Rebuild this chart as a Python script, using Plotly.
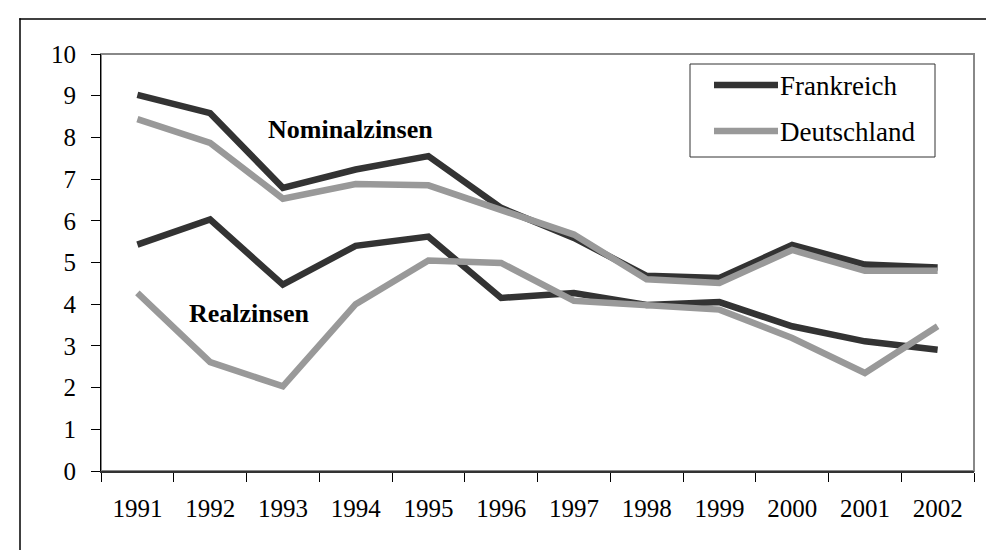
import plotly.graph_objects as go

years = ["1991", "1992", "1993", "1994", "1995", "1996", "1997", "1998", "1999", "2000", "2001", "2002"]
series_names = ["Frankreich", "Deutschland"]
fr_nominal = [9.02, 8.58, 6.79, 7.23, 7.55, 6.31, 5.59, 4.68, 4.63, 5.42, 4.95, 4.88]
de_nominal = [8.44, 7.87, 6.53, 6.88, 6.85, 6.28, 5.67, 4.60, 4.51, 5.30, 4.80, 4.80]
fr_real = [5.43, 6.03, 4.47, 5.40, 5.62, 4.15, 4.27, 3.98, 4.05, 3.47, 3.11, 2.91]
de_real = [4.27, 2.61, 2.03, 4.00, 5.05, 4.99, 4.08, 3.98, 3.87, 3.19, 2.35, 3.47]
labels = ["Nominalzinsen", "Realzinsen"]

W, H = 994, 550
L, R, T, B = 93, 966, 46, 463
FONT = "Liberation Serif"
C_FR = "#333333"
C_DE = "#999999"
LW = 6.5


def px(x):
    return (x - L) / (R - L)


def py(y):
    return (B - y) / (B - T)


fig = go.Figure()
for vals, col, name in [(fr_nominal, C_FR, series_names[0]), (fr_real, C_FR, series_names[0]),
                        (de_nominal, C_DE, series_names[1]), (de_real, C_DE, series_names[1])]:
    fig.add_trace(go.Scatter(x=years, y=vals, mode="lines", name=name,
                             line=dict(color=col, width=LW), showlegend=False,
                             hoverinfo="skip"))

shapes = []
# outer frame: only top and left edges are visible in the picture
shapes.append(dict(type="line", xref="paper", yref="paper",
                   x0=px(11.3), x1=px(994), y0=py(11), y1=py(11),
                   line=dict(color="black", width=1.5), layer="below"))
shapes.append(dict(type="line", xref="paper", yref="paper",
                   x0=px(12), x1=px(12), y0=py(10.3), y1=py(550),
                   line=dict(color="black", width=1.5), layer="below"))
# plot area border (top/right gray)
shapes.append(dict(type="rect", xref="paper", yref="paper",
                   x0=0, x1=1, y0=0, y1=1,
                   line=dict(color="#888888", width=2), layer="below"))
# legend box
shapes.append(dict(type="rect", xref="paper", yref="paper",
                   x0=px(682), x1=px(927), y0=py(149), y1=py(56),
                   line=dict(color="#333333", width=1), fillcolor="white", layer="above"))
annotations = []
for i, (name, col, yy) in enumerate([(series_names[0], C_FR, 77), (series_names[1], C_DE, 123)]):
    shapes.append(dict(type="line", xref="paper", yref="paper",
                       x0=px(706), x1=px(770), y0=py(yy), y1=py(yy),
                       line=dict(color=col, width=LW), layer="above"))
    annotations.append(dict(text=name, xref="paper", yref="paper", x=px(770), y=py(yy + 1),
                            xanchor="left", yanchor="middle", showarrow=False,
                            font=dict(family=FONT, size=27, color="black")))

annotations.append(dict(text="<b>" + labels[0] + "</b>", xref="paper", yref="paper",
                        x=px(258), y=py(122), xanchor="left", yanchor="middle", showarrow=False,
                        font=dict(family=FONT, size=26, color="black")))
annotations.append(dict(text="<b>" + labels[1] + "</b>", xref="paper", yref="paper",
                        x=px(179), y=py(305), xanchor="left", yanchor="middle", showarrow=False,
                        font=dict(family=FONT, size=26, color="black")))

fig.update_layout(
    width=W, height=H,
    margin=dict(l=L, r=W - R, t=T, b=H - B, pad=0),
    paper_bgcolor="white", plot_bgcolor="white",
    showlegend=False,
    shapes=shapes, annotations=annotations,
    font=dict(family=FONT, size=25, color="black"),
)
fig.update_xaxes(type="category", range=[-0.5, 11.5], tickson="boundaries",
                 ticks="outside", ticklen=9, tickcolor="black", tickwidth=1,
                 showline=True, linecolor="#333333", linewidth=2,
                 showgrid=False, zeroline=False, ticklabelstandoff=14,
                 tickfont=dict(family=FONT, size=25, color="black"))
fig.update_yaxes(range=[0, 10], dtick=1, tick0=0,
                 ticks="outside", ticklen=9, tickcolor="black", tickwidth=1,
                 showline=True, linecolor="black", linewidth=1,
                 showgrid=False, zeroline=False, ticklabelstandoff=10,
                 tickfont=dict(family=FONT, size=25, color="black"))

fig.write_html("out.html")
